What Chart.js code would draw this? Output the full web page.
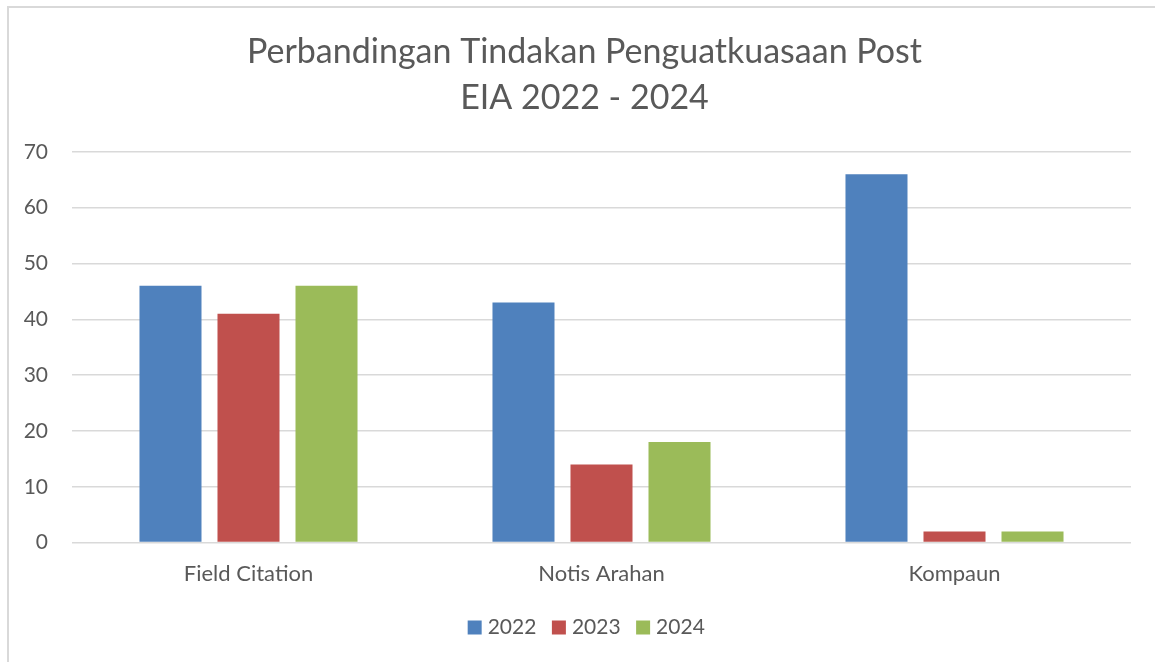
<!DOCTYPE html>
<html>
<head>
<meta charset="utf-8">
<script src="https://cdn.jsdelivr.net/npm/chart.js@4.4.1/dist/chart.umd.min.js"></script>
<style>
  html, body { margin: 0; padding: 0; background: #fff; }
  #wrap { position: relative; width: 1155px; height: 662px; overflow: hidden; }
  #frame {
    position: absolute; left: 7px; top: 6px; width: 1160px; height: 670px;
    border-left: 2px solid #d9d9d9; border-top: 2px solid #d9d9d9;
  }
  #chart { position: absolute; left: 0; top: 0; }
</style>
</head>
<body>
<div id="wrap">
  <div id="frame"></div>
  <canvas id="chart" width="1155" height="662"></canvas>
</div>
<script>
// data
const categories = ['Field Citation', 'Notis Arahan', 'Kompaun'];
const years = ['2022', '2023', '2024'];
const values2022 = [46, 43, 66];
const values2023 = [41, 14, 2];
const values2024 = [46, 18, 2];
const titleLines = ['Perbandingan Tindakan Penguatkuasaan Post', 'EIA 2022 - 2024'];

const colors = ['#4f81bd', '#c0504d', '#9bbb59'];
const textColor = '#595959';
const gridColor = '#d9d9d9';
const fontFamily = 'Lato, "Open Sans", sans-serif';

const ctx = document.getElementById('chart');

const seriesValues = [values2022, values2023, values2024];

// the original centres title and legend a bit right of the canvas middle
const nudgeBoxes = {
  id: 'nudgeBoxes',
  afterLayout(chart) {
    const shift = (box, dx) => {
      if (!box) return;
      box.left += dx;
      box.right += dx;
    };
    shift(chart.titleBlock, 15);
    shift(chart.legend, 19);
  },
};

new Chart(ctx, {
  type: 'bar',
  plugins: [nudgeBoxes],
  data: {
    labels: categories,
    datasets: years.map((y, i) => ({
      label: y,
      data: seriesValues[i],
      backgroundColor: colors[i],
      borderWidth: 0,
      categoryPercentage: 0.663,
      barPercentage: 0.795,
    })),
  },
  options: {
    responsive: false,
    animation: false,
    layout: {
      padding: { left: 8, right: 24, top: 0, bottom: 14 },
    },
    plugins: {
      tooltip: { enabled: false },
      title: {
        display: true,
        text: titleLines,
        color: textColor,
        font: { family: fontFamily, size: 34, weight: 'normal', lineHeight: 1.35 },
        padding: { top: 29, bottom: 31 },
      },
      legend: {
        position: 'bottom',
        labels: {
          // small boxWidth + pointStyle rect keeps a 14px square but a tighter gap to the text
          usePointStyle: true,
          pointStyle: 'rect',
          boxWidth: 5,
          boxHeight: 14,
          padding: 20,
          color: textColor,
          font: { family: fontFamily, size: 21 },
        },
      },
    },
    scales: {
      x: {
        grid: { display: false },
        border: { display: false },
        ticks: {
          color: textColor,
          padding: 10,
          font: { family: fontFamily, size: 22 },
        },
      },
      y: {
        min: 0,
        max: 70,
        afterFit: (scale) => { scale.width = 64; },
        ticks: {
          stepSize: 10,
          padding: 24,
          color: textColor,
          font: { family: fontFamily, size: 21 },
        },
        grid: { color: gridColor, lineWidth: 1.5, drawTicks: false },
        border: { display: false },
      },
    },
  },
});
</script>
</body>
</html>
